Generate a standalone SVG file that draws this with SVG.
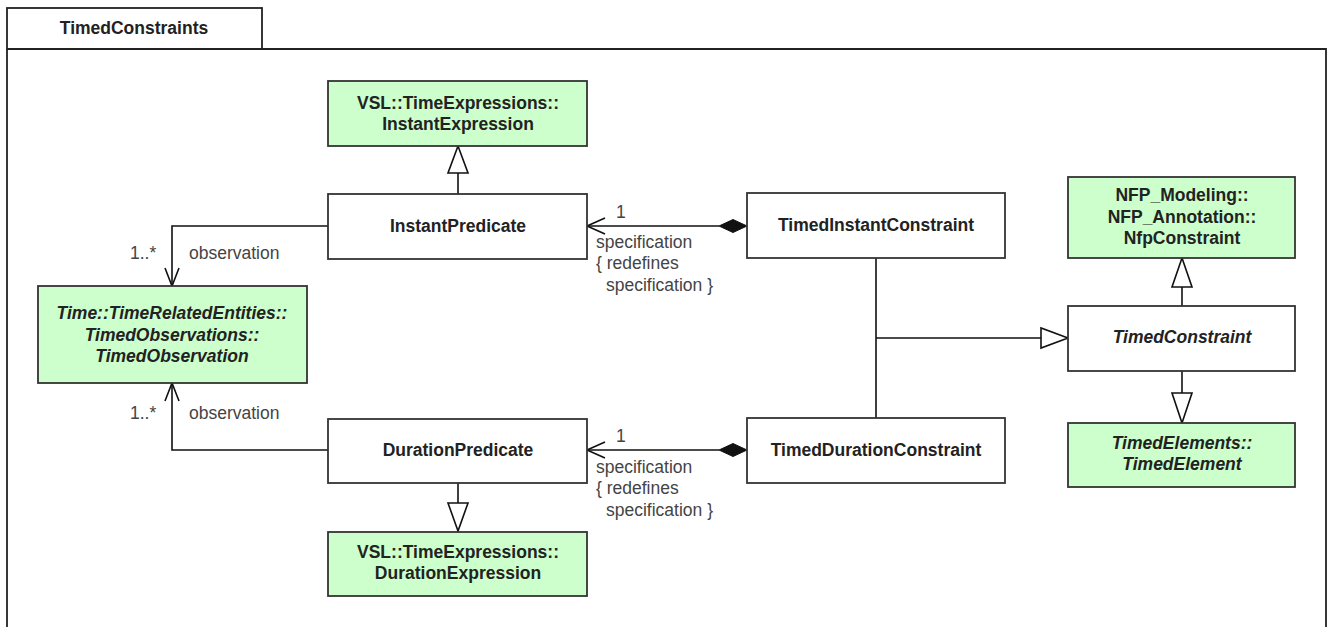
<svg xmlns="http://www.w3.org/2000/svg" width="1332" height="627" viewBox="0 0 1332 627">
<style>
.box{fill:#ffffff;stroke:#333333;stroke-width:1.8}
.lib{fill:#ccffcc;stroke:#333333;stroke-width:1.8}
.t{font-family:"Liberation Sans",Arial,sans-serif;font-size:17.5px;font-weight:bold;fill:#222222;text-anchor:middle}
.it{font-style:italic}
.lbl{font-family:"Liberation Sans",Arial,sans-serif;font-size:17.5px;fill:#444444}
.ln{fill:none;stroke:#111111;stroke-width:1.6}
.tri{fill:#ffffff;stroke:#111111;stroke-width:1.6}
.dia{fill:#111111;stroke:#111111;stroke-width:1}
</style>
<rect width="1332" height="627" fill="#ffffff"/>
<g id="frame">
<rect x="7" y="8" width="255" height="41" fill="#ffffff" stroke="#222222" stroke-width="1.8"/>
<path d="M7 49 V640 M7 49 H1326 V640" fill="none" stroke="#222222" stroke-width="1.8"/>
<text class="t" x="134" y="34">TimedConstraints</text>
</g>
<g id="connectors">
<!-- InstantPredicate -> InstantExpression generalization -->
<path class="ln" d="M458 194 V173"/>
<path class="tri" d="M458 146 L448 173 L468 173 Z"/>
<!-- DurationPredicate -> DurationExpression generalization -->
<path class="ln" d="M458 483 V503"/>
<path class="tri" d="M458 531 L448 503 L468 503 Z"/>
<!-- observation upper -->
<path class="ln" d="M328 226 H172 V286"/>
<path class="ln" d="M165 268 L172 286 L179 268"/>
<text class="lbl" x="130" y="259">1..*</text>
<text class="lbl" x="189" y="259">observation</text>
<!-- observation lower -->
<path class="ln" d="M328 450 H172 V383"/>
<path class="ln" d="M165 401 L172 383 L179 401"/>
<text class="lbl" x="130" y="419">1..*</text>
<text class="lbl" x="189" y="419">observation</text>
<!-- specification upper -->
<path class="ln" d="M719 226 H587"/>
<path class="ln" d="M605 218 L587 226 L605 234"/>
<path class="dia" d="M747 226 L733 219.5 L719 226 L733 232.5 Z"/>
<text class="lbl" x="616" y="218">1</text>
<text class="lbl" x="596" y="248">specification</text>
<text class="lbl" x="596" y="269">{ redefines</text>
<text class="lbl" x="606" y="291">specification }</text>
<!-- specification lower -->
<path class="ln" d="M719 450 H587"/>
<path class="ln" d="M605 442 L587 450 L605 458"/>
<path class="dia" d="M747 450 L733 443.5 L719 450 L733 456.5 Z"/>
<text class="lbl" x="616" y="442">1</text>
<text class="lbl" x="596" y="473">specification</text>
<text class="lbl" x="596" y="494">{ redefines</text>
<text class="lbl" x="606" y="516">specification }</text>
<!-- TimedInstant/Duration -> TimedConstraint -->
<path class="ln" d="M876 258 V418 M876 338 H1041"/>
<path class="tri" d="M1068 338 L1041 328 L1041 348 Z"/>
<!-- TimedConstraint -> NfpConstraint -->
<path class="ln" d="M1182 306 V287"/>
<path class="tri" d="M1182 258 L1172 287 L1192 287 Z"/>
<!-- TimedConstraint -> TimedElement -->
<path class="ln" d="M1182 371 V393"/>
<path class="tri" d="M1182 423 L1172 393 L1192 393 Z"/>
</g>
<g id="InstantExpression">
<rect class="lib" x="328" y="81" width="259" height="65"/>
<text class="t" x="458" y="109">VSL::TimeExpressions::</text>
<text class="t" x="458" y="130">InstantExpression</text>
</g>
<g id="InstantPredicate">
<rect class="box" x="328" y="194" width="259" height="65"/>
<text class="t" x="458" y="232">InstantPredicate</text>
</g>
<g id="TimedObservation">
<rect class="lib" x="38" y="286" width="269" height="97"/>
<text class="t it" x="172" y="319">Time::TimeRelatedEntities::</text>
<text class="t it" x="172" y="341">TimedObservations::</text>
<text class="t it" x="172" y="362">TimedObservation</text>
</g>
<g id="DurationPredicate">
<rect class="box" x="328" y="419" width="259" height="64"/>
<text class="t" x="458" y="456">DurationPredicate</text>
</g>
<g id="DurationExpression">
<rect class="lib" x="328" y="532" width="259" height="64"/>
<text class="t" x="458" y="558">VSL::TimeExpressions::</text>
<text class="t" x="458" y="579">DurationExpression</text>
</g>
<g id="TimedInstantConstraint">
<rect class="box" x="747" y="193" width="258" height="65"/>
<text class="t" x="876" y="231">TimedInstantConstraint</text>
</g>
<g id="TimedDurationConstraint">
<rect class="box" x="747" y="418" width="258" height="65"/>
<text class="t" x="876" y="456">TimedDurationConstraint</text>
</g>
<g id="NfpConstraint">
<rect class="lib" x="1068" y="177" width="227" height="81"/>
<text class="t" x="1182" y="201">NFP_Modeling::</text>
<text class="t" x="1182" y="223">NFP_Annotation::</text>
<text class="t" x="1182" y="244">NfpConstraint</text>
</g>
<g id="TimedConstraint">
<rect class="box" x="1068" y="306" width="227" height="65"/>
<text class="t it" x="1182" y="343">TimedConstraint</text>
</g>
<g id="TimedElement">
<rect class="lib" x="1068" y="423" width="227" height="64"/>
<text class="t it" x="1182" y="449">TimedElements::</text>
<text class="t it" x="1182" y="470">TimedElement</text>
</g>
</svg>
